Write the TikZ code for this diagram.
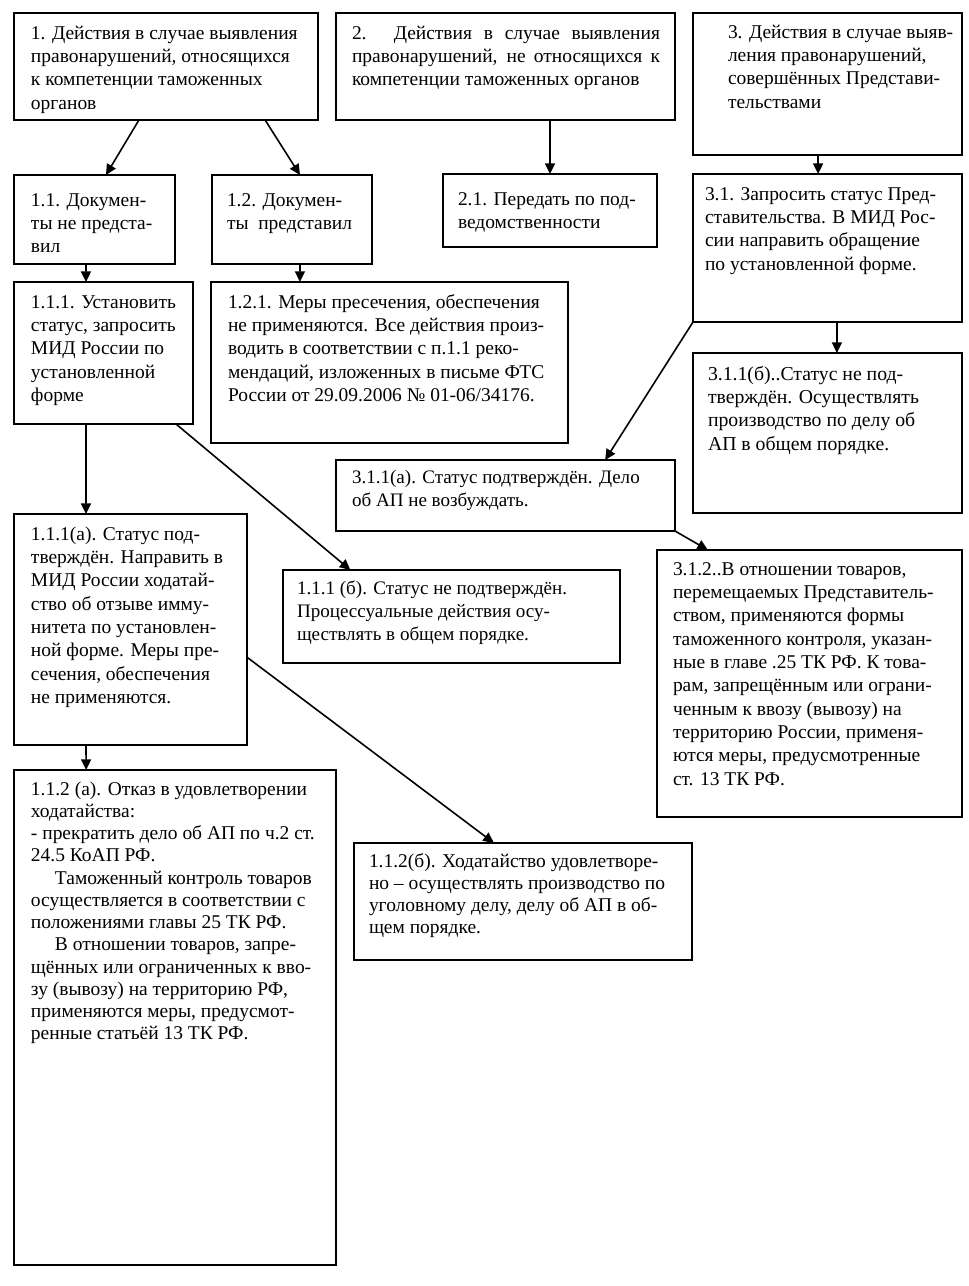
\documentclass[tikz,border=0pt]{standalone}
\usepackage{fontspec}
\setmainfont{Liberation Serif}
\usetikzlibrary{arrows.meta,calc}
\newdimen\px \px=0.75pt
% width, height, left pad, first-baseline offset, text
\newcommand{\bt}[5]{\parbox[t][#2\px][t]{#1\px}{\raggedright\leftskip=#3\px\relax\hyphenpenalty=10000\exhyphenpenalty=10000\relax\rule{0pt}{#4\px}#5}}
\begin{document}
\begin{tikzpicture}[x=0.75pt,y=-0.75pt,
  box/.style={draw=black,line width=1.2pt,anchor=north west,inner sep=0pt,outer sep=0pt,font=\fontsize{14.6}{17.5}\selectfont},
  boxs/.style={box,font=\fontsize{14.6}{16.7}\selectfont},
  arr/.style={-{Triangle[length=8pt,width=7.5pt]},line width=1.2pt}]
\fill[white] (0,0) rectangle (969,1286);
\useasboundingbox (0,0) rectangle (969,1286);

\node[box] (b1) at (14,13) {\bt{304}{107}{17}{26}{1. Действия в случае выявления\\правонарушений, относящихся\\к компетенции таможенных\\органов}};
\node[box] (b2) at (336,13) {\parbox[t][107\px][t]{339\px}{\leftskip=16\px\rightskip=15\px\hyphenpenalty=10000\relax\rule{0pt}{26\px}2. Действия в случае выявления\linebreak правонарушений, не относящихся к\linebreak компетенции таможенных органов}};
\node[box] (b3) at (693,13) {\bt{269}{142}{35}{25}{3. Действия в случае выяв-\\ления правонарушений,\\совершённых Представи-\\тельствами}};

\node[box] (b11) at (14,175) {\bt{161}{89}{17}{31}{1.1. Докумен-\\ты не предста-\\вил}};
\node[box] (b12) at (212,175) {\bt{160}{89}{15}{31}{1.2. Докумен-\\ты\ \ представил}};
\node[box] (b21) at (443,174) {\bt{214}{73}{15}{31}{2.1. Передать по под-\\ведомственности}};
\node[box] (b31) at (693,174) {\bt{269}{148}{12}{26}{3.1. Запросить статус Пред-\\ставительства. В МИД Рос-\\сии направить обращение\\по установленной форме.}};

\node[box] (b111) at (14,282) {\bt{179}{142}{17}{26}{1.1.1. Установить\\статус, запросить\\МИД России по\\установленной\\форме}};
\node[box] (b121) at (211,282) {\bt{357}{161}{17}{26}{1.2.1. Меры пресечения, обеспечения\\не применяются. Все действия произ-\\водить в соответствии с п.1.1 реко-\\мендаций, изложенных в письме ФТС\\России от 29.09.2006 № 01-06/34176.}};
\node[box,font=\fontsize{14.8}{17.5}\selectfont] (b311b) at (693,353) {\bt{269}{160}{15}{27}{3.1.1(б)..Статус не под-\\тверждён. Осуществлять\\производство по делу об\\АП в общем порядке.}};
\node[box,font=\fontsize{14.3}{17.5}\selectfont] (b311a) at (336,460) {\bt{339}{71}{16}{23}{3.1.1(а). Статус подтверждён. Дело\\об АП не возбуждать.}};

\node[box] (b111a) at (14,514) {\bt{233}{231}{17}{26}{1.1.1(а). Статус под-\\тверждён. Направить в\\МИД России ходатай-\\ство об отзыве имму-\\нитета по установлен-\\ной форме. Меры пре-\\сечения, обеспечения\\не применяются.}};
\node[box,font=\fontsize{14.3}{17.5}\selectfont] (b111b) at (283,570) {\bt{337}{93}{14}{24}{1.1.1 (б). Статус не подтверждён.\\Процессуальные действия осу-\\ществлять в общем порядке.}};
\node[box] (b312) at (657,550) {\bt{305}{267}{16}{25}{3.1.2..В отношении товаров,\\перемещаемых Представитель-\\ством, применяются формы\\таможенного контроля, указан-\\ные в главе .25 ТК РФ. К това-\\рам, запрещённым или ограни-\\ченным к ввозу (вывозу) на\\территорию России, применя-\\ются меры, предусмотренные\\ст. 13 ТК РФ.}};

\node[boxs] (b112a) at (14,770) {\bt{322}{495}{17}{25}{1.1.2 (а). Отказ в удовлетворении\\ходатайства:\\- прекратить дело об АП по ч.2 ст.\\24.5 КоАП РФ.\\\hspace*{24\px}Таможенный контроль товаров\\осуществляется в соответствии с\\положениями главы 25 ТК РФ.\\\hspace*{24\px}В отношении товаров, запре-\\щённых или ограниченных к вво-\\зу (вывозу) на территорию РФ,\\применяются меры, предусмот-\\ренные статьёй 13 ТК РФ.}};
\node[boxs] (b112b) at (354,843) {\bt{338}{117}{15}{24}{1.1.2(б). Ходатайство удовлетворе-\\но – осуществлять производство по\\уголовному делу, делу об АП в об-\\щем порядке.}};

% connectors
\draw[arr] ($(b1.south west)!0.411!(b1.south east)$) -- ($(b11.north west)!0.571!(b11.north east)$);
\draw[arr] ($(b1.south west)!0.826!(b1.south east)$) -- ($(b12.north west)!0.55!(b12.north east)$);
\draw[arr] (b21.north |- b2.south) -- (b21.north);
\draw[arr] ($(b3.south west)!0.465!(b3.south east)$) -- ($(b31.north west)!0.465!(b31.north east)$);
\draw[arr] ($(b11.south west)!0.447!(b11.south east)$) -- ($(b111.north west)!0.402!(b111.north east)$);
\draw[arr] ($(b12.south west)!0.55!(b12.south east)$) -- ($(b121.north west)!0.249!(b121.north east)$);
\draw[arr] ($(b111.south west)!0.402!(b111.south east)$) -- ($(b111a.north west)!0.309!(b111a.north east)$);
\draw[arr] ($(b111.south west)!0.905!(b111.south east)$) -- ($(b111b.north west)!0.2!(b111b.north east)$);
\draw[arr] (b31.south west) -- ($(b311a.north west)!0.794!(b311a.north east)$);
\draw[arr] ($(b31.south west)!0.535!(b31.south east)$) -- ($(b311b.north west)!0.535!(b311b.north east)$);
\draw[arr] (b311a.south east) -- ($(b312.north west)!0.167!(b312.north east)$);
\draw[arr] ($(b111a.south west)!0.309!(b111a.south east)$) -- ($(b112a.north west)!0.224!(b112a.north east)$);
\draw[arr] ($(b111a.north east)!0.62!(b111a.south east)$) -- ($(b112b.north west)!0.414!(b112b.north east)$);
\end{tikzpicture}
\end{document}
